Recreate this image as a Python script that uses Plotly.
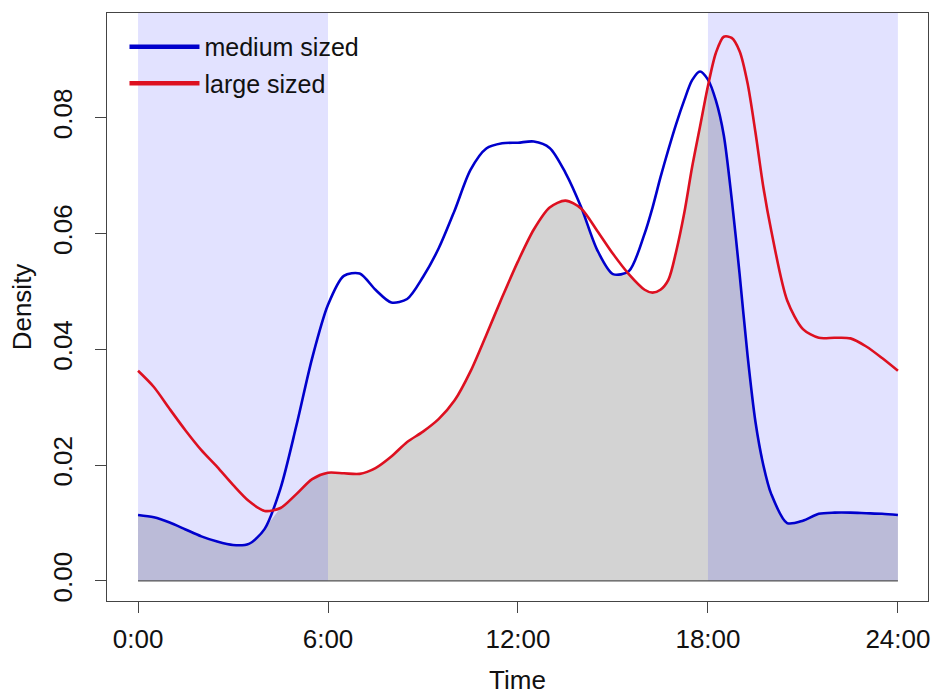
import numpy as np
import plotly.graph_objects as go

# ---- data ----
time_h = [0.0, 0.5, 1.0, 1.5, 2.0, 2.5, 3.0, 3.5, 4.0, 4.5, 5.0, 5.5, 6.0, 6.5, 7.0, 7.5,
          8.0, 8.5, 9.0, 9.5, 10.0, 10.5, 11.0, 11.5, 12.0, 12.5, 13.0, 13.5, 14.0, 14.5,
          15.0, 15.5, 16.0, 16.25, 16.5, 16.75, 17.0, 17.25, 17.5, 17.75, 18.0, 18.25,
          18.5, 18.75, 19.0, 19.25, 19.5, 19.75, 20.0, 20.5, 21.0, 21.5, 22.0, 22.5,
          23.0, 23.5, 24.0]

medium_sized = [0.0114, 0.0110, 0.0101, 0.0089, 0.0077, 0.0068, 0.0062, 0.0064, 0.0090,
                0.0160, 0.0268, 0.0385, 0.0477, 0.0527, 0.0531, 0.0503, 0.0481, 0.0487,
                0.0525, 0.0575, 0.0640, 0.0710, 0.0747, 0.0756, 0.0757, 0.0759, 0.0748,
                0.0705, 0.0645, 0.0572, 0.0530, 0.0535, 0.0600, 0.0645, 0.0697, 0.0745,
                0.0790, 0.0830, 0.0865, 0.0880, 0.0866, 0.0830, 0.0770, 0.0660, 0.0530,
                0.0390, 0.0275, 0.0200, 0.0150, 0.0100, 0.0104, 0.0116, 0.0118, 0.0118,
                0.0117, 0.0116, 0.0114]

large_sized = [0.0363, 0.0335, 0.0297, 0.0260, 0.0226, 0.0197, 0.0166, 0.0138, 0.0121,
               0.0126, 0.0150, 0.0176, 0.0187, 0.0186, 0.0185, 0.0195, 0.0215, 0.0240,
               0.0258, 0.0280, 0.0312, 0.0362, 0.0425, 0.0490, 0.0552, 0.0607, 0.0645,
               0.0657, 0.0643, 0.0605, 0.0565, 0.0530, 0.0503, 0.0498, 0.0503, 0.0520,
               0.0570, 0.0635, 0.0715, 0.0785, 0.0855, 0.0912, 0.0940, 0.0938, 0.0915,
               0.0860, 0.0775, 0.0680, 0.0605, 0.0485, 0.0435, 0.0420, 0.0420, 0.0419,
               0.0405, 0.0385, 0.0363]

series_names = ["medium sized", "large sized"]
night_periods = [(0, 6), (18, 24)]

x_tick_vals = [0, 6, 12, 18, 24]
x_tick_text = ["0:00", "6:00", "12:00", "18:00", "24:00"]
y_tick_vals = [0.00, 0.02, 0.04, 0.06, 0.08]
y_tick_text = ["0.00", "0.02", "0.04", "0.06", "0.08"]

# ---- styling ----
FONT = "Liberation Sans, Arial, sans-serif"
TXT = "#111111"
BLUE = "#0000CC"
RED = "#DD1020"
X_RANGE = [-0.98, 24.95]
Y_RANGE = [-0.00346, 0.0981]

overlap = np.minimum(np.array(medium_sized), np.array(large_sized))

fig = go.Figure()

# overlap area
fig.add_trace(go.Scatter(x=time_h, y=overlap, mode="lines", fill="tozeroy",
                         fillcolor="rgb(211,211,211)",
                         line=dict(width=0, shape="spline", smoothing=0.6),
                         showlegend=False, hoverinfo="skip"))

# night shading
for a, b in night_periods:
    fig.add_trace(go.Scatter(x=[a, b, b, a, a], y=[0, 0, Y_RANGE[1], Y_RANGE[1], 0],
                             mode="lines", fill="toself",
                             fillcolor="rgba(0,0,255,0.115)",
                             line=dict(width=0), showlegend=False, hoverinfo="skip"))

# baseline
fig.add_trace(go.Scatter(x=[time_h[0], time_h[-1]], y=[0, 0], mode="lines",
                         line=dict(color="#555555", width=1.2),
                         showlegend=False, hoverinfo="skip"))

# density curves
for name, vals, col in [(series_names[0], medium_sized, BLUE),
                        (series_names[1], large_sized, RED)]:
    fig.add_trace(go.Scatter(x=time_h, y=vals, mode="lines", name=name,
                             line=dict(color=col, width=2.6, shape="spline", smoothing=0.8),
                             showlegend=False))

# legend entries (thicker lines, as in the reference)
for i, (name, col) in enumerate([(series_names[0], BLUE), (series_names[1], RED)]):
    fig.add_trace(go.Scatter(x=[None], y=[None], mode="lines", name=name,
                             legendgroup=f"g{i}",
                             line=dict(color=col, width=4.5)))

axis_common = dict(showline=True, mirror=True, linecolor="#444444", linewidth=1,
                   showgrid=False, zeroline=False, ticks="outside", ticklen=11,
                   tickcolor="#444444", automargin=False,
                   tickfont=dict(family=FONT, size=26, color=TXT))

fig.update_xaxes(range=X_RANGE, tickvals=x_tick_vals, ticktext=x_tick_text,
                 ticklabelstandoff=4,
                 title=dict(text="Time", font=dict(family=FONT, size=26, color=TXT),
                            standoff=25),
                 **axis_common)
fig.update_yaxes(range=Y_RANGE, tickvals=y_tick_vals, ticktext=y_tick_text, tickangle=-90,
                 ticklabelstandoff=13,
                 title=dict(text="Density", font=dict(family=FONT, size=26, color=TXT),
                            standoff=8),
                 **axis_common)

fig.update_layout(
    width=936, height=695,
    margin=dict(l=107, r=8, t=13, b=94),
    paper_bgcolor="white", plot_bgcolor="white",
    font=dict(family=FONT, size=25, color=TXT),
    legend=dict(x=0.0213, y=0.9815, xanchor="left", yanchor="top",
                bgcolor="rgba(0,0,0,0)", font=dict(family=FONT, size=25, color=TXT),
                itemwidth=70, tracegroupgap=1),
)

fig.write_html("out.html")
